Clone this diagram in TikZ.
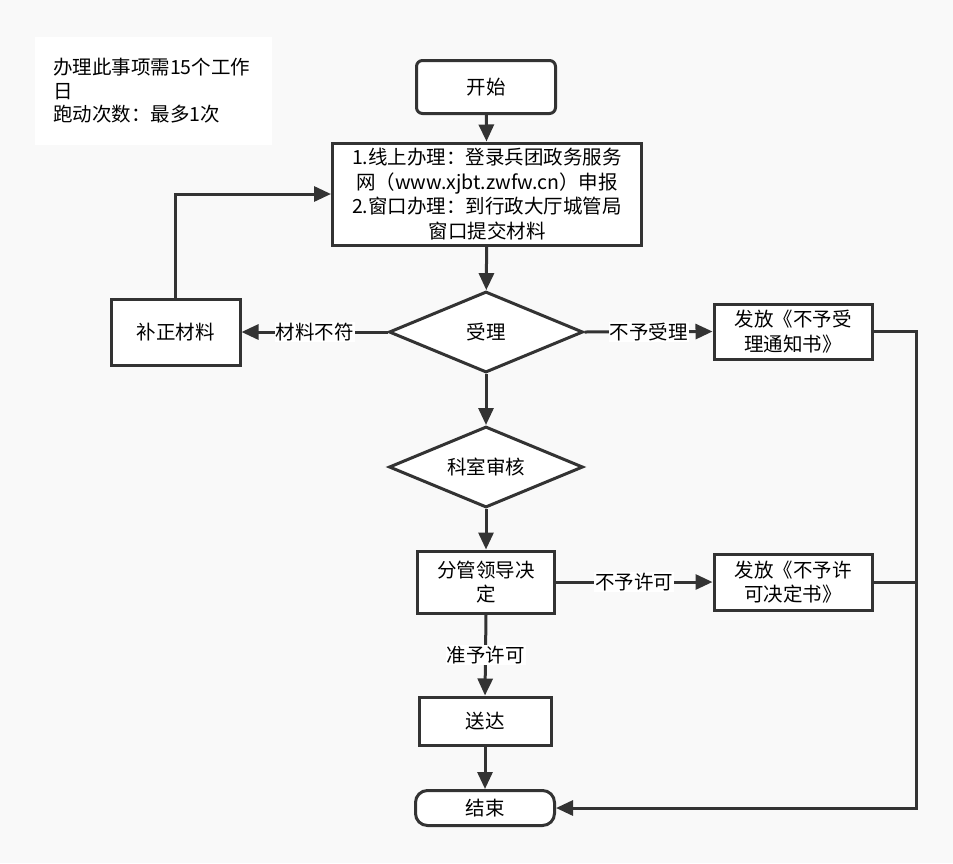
\documentclass[tikz,border=0pt]{standalone}
\usepackage{fontspec}
\setmainfont{Noto Sans CJK SC}
\usetikzlibrary{shapes.geometric,arrows.meta}
\definecolor{ink}{RGB}{51,51,51}
\definecolor{paper}{RGB}{249,249,249}
\tikzset{
        box/.style={draw=ink,line width=3pt,fill=white,align=center,inner sep=0pt},
        decision/.style={diamond,draw=ink,line width=3pt,fill=white,inner sep=0pt,aspect=2.4,minimum width=194pt,minimum height=81pt},
        flow/.style={draw=ink,line width=3pt,-{Triangle[length=17pt,width=15pt]}},
        plain/.style={draw=ink,line width=3pt},
        tag/.style={fill=white,inner sep=1pt}
}
\begin{document}
\begin{tikzpicture}[x=1pt,y=-1pt,font=\fontsize{19.5}{24.5}\selectfont]
        \fill[paper] (0,0) rectangle (953,863);
        \node[fill=white,minimum width=237pt,minimum height=108pt,text width=201pt,align=left,inner sep=0pt,font=\fontsize{19.5}{23.5}\selectfont] (note) at (153.5,91) {办理此事项需15个工作\\日\\跑动次数：最多1次};
        \node[box,rounded corners=6pt,minimum width=139pt,minimum height=53pt] (start) at (486,87) {开始};
        \node[box,minimum width=309pt,minimum height=102pt] (apply) at (487,194) {1.线上办理：登录兵团政务服务\\网（www.xjbt.zwfw.cn）申报\\2.窗口办理：到行政大厅城管局\\窗口提交材料};
        \node[decision] (accept) at (486,332) {受理};
        \node[box,minimum width=129pt,minimum height=66pt] (fix) at (175.5,332) {补正材料};
        \node[box,minimum width=158pt,minimum height=55pt] (refuse) at (793,331.5) {发放《不予受\\理通知书》};
        \node[decision] (review) at (486,467) {科室审核};
        \node[box,minimum width=137pt,minimum height=62pt] (decide) at (486,582) {分管领导决\\定};
        \node[box,minimum width=158pt,minimum height=56pt] (deny) at (793,582) {发放《不予许\\可决定书》};
        \node[box,minimum width=132pt,minimum height=48pt] (deliver) at (485,721) {送达};
        \node[box,rounded corners=12pt,minimum width=139pt,minimum height=35pt] (finish) at (485,808) {结束};
        \coordinate (turn) at (916,808);
        \draw[flow] (start) -- (apply);
        \draw[flow] (apply) -- (accept);
        \draw[flow] (accept.west) -- node[tag] {材料不符} (fix.east);
        \draw[flow] (fix.north) |- (apply.west);
        \draw[flow] (accept.east) -- node[tag] {不予受理} (refuse.west);
        \draw[flow] (accept.south) -- (review.north);
        \draw[flow] (review.south) -- (decide.north);
        \draw[flow] (decide.east) -- node[tag] {不予许可} (deny.west);
        \draw[flow] (decide.south) -- node[tag] {准予许可} (deliver.north);
        \draw[flow] (deliver) -- (finish);
        \draw[flow] (refuse.east) -| (turn) -- (finish.east);
        \draw[plain] (deny.east) -- (deny.east -| turn);
\end{tikzpicture}
\end{document}
